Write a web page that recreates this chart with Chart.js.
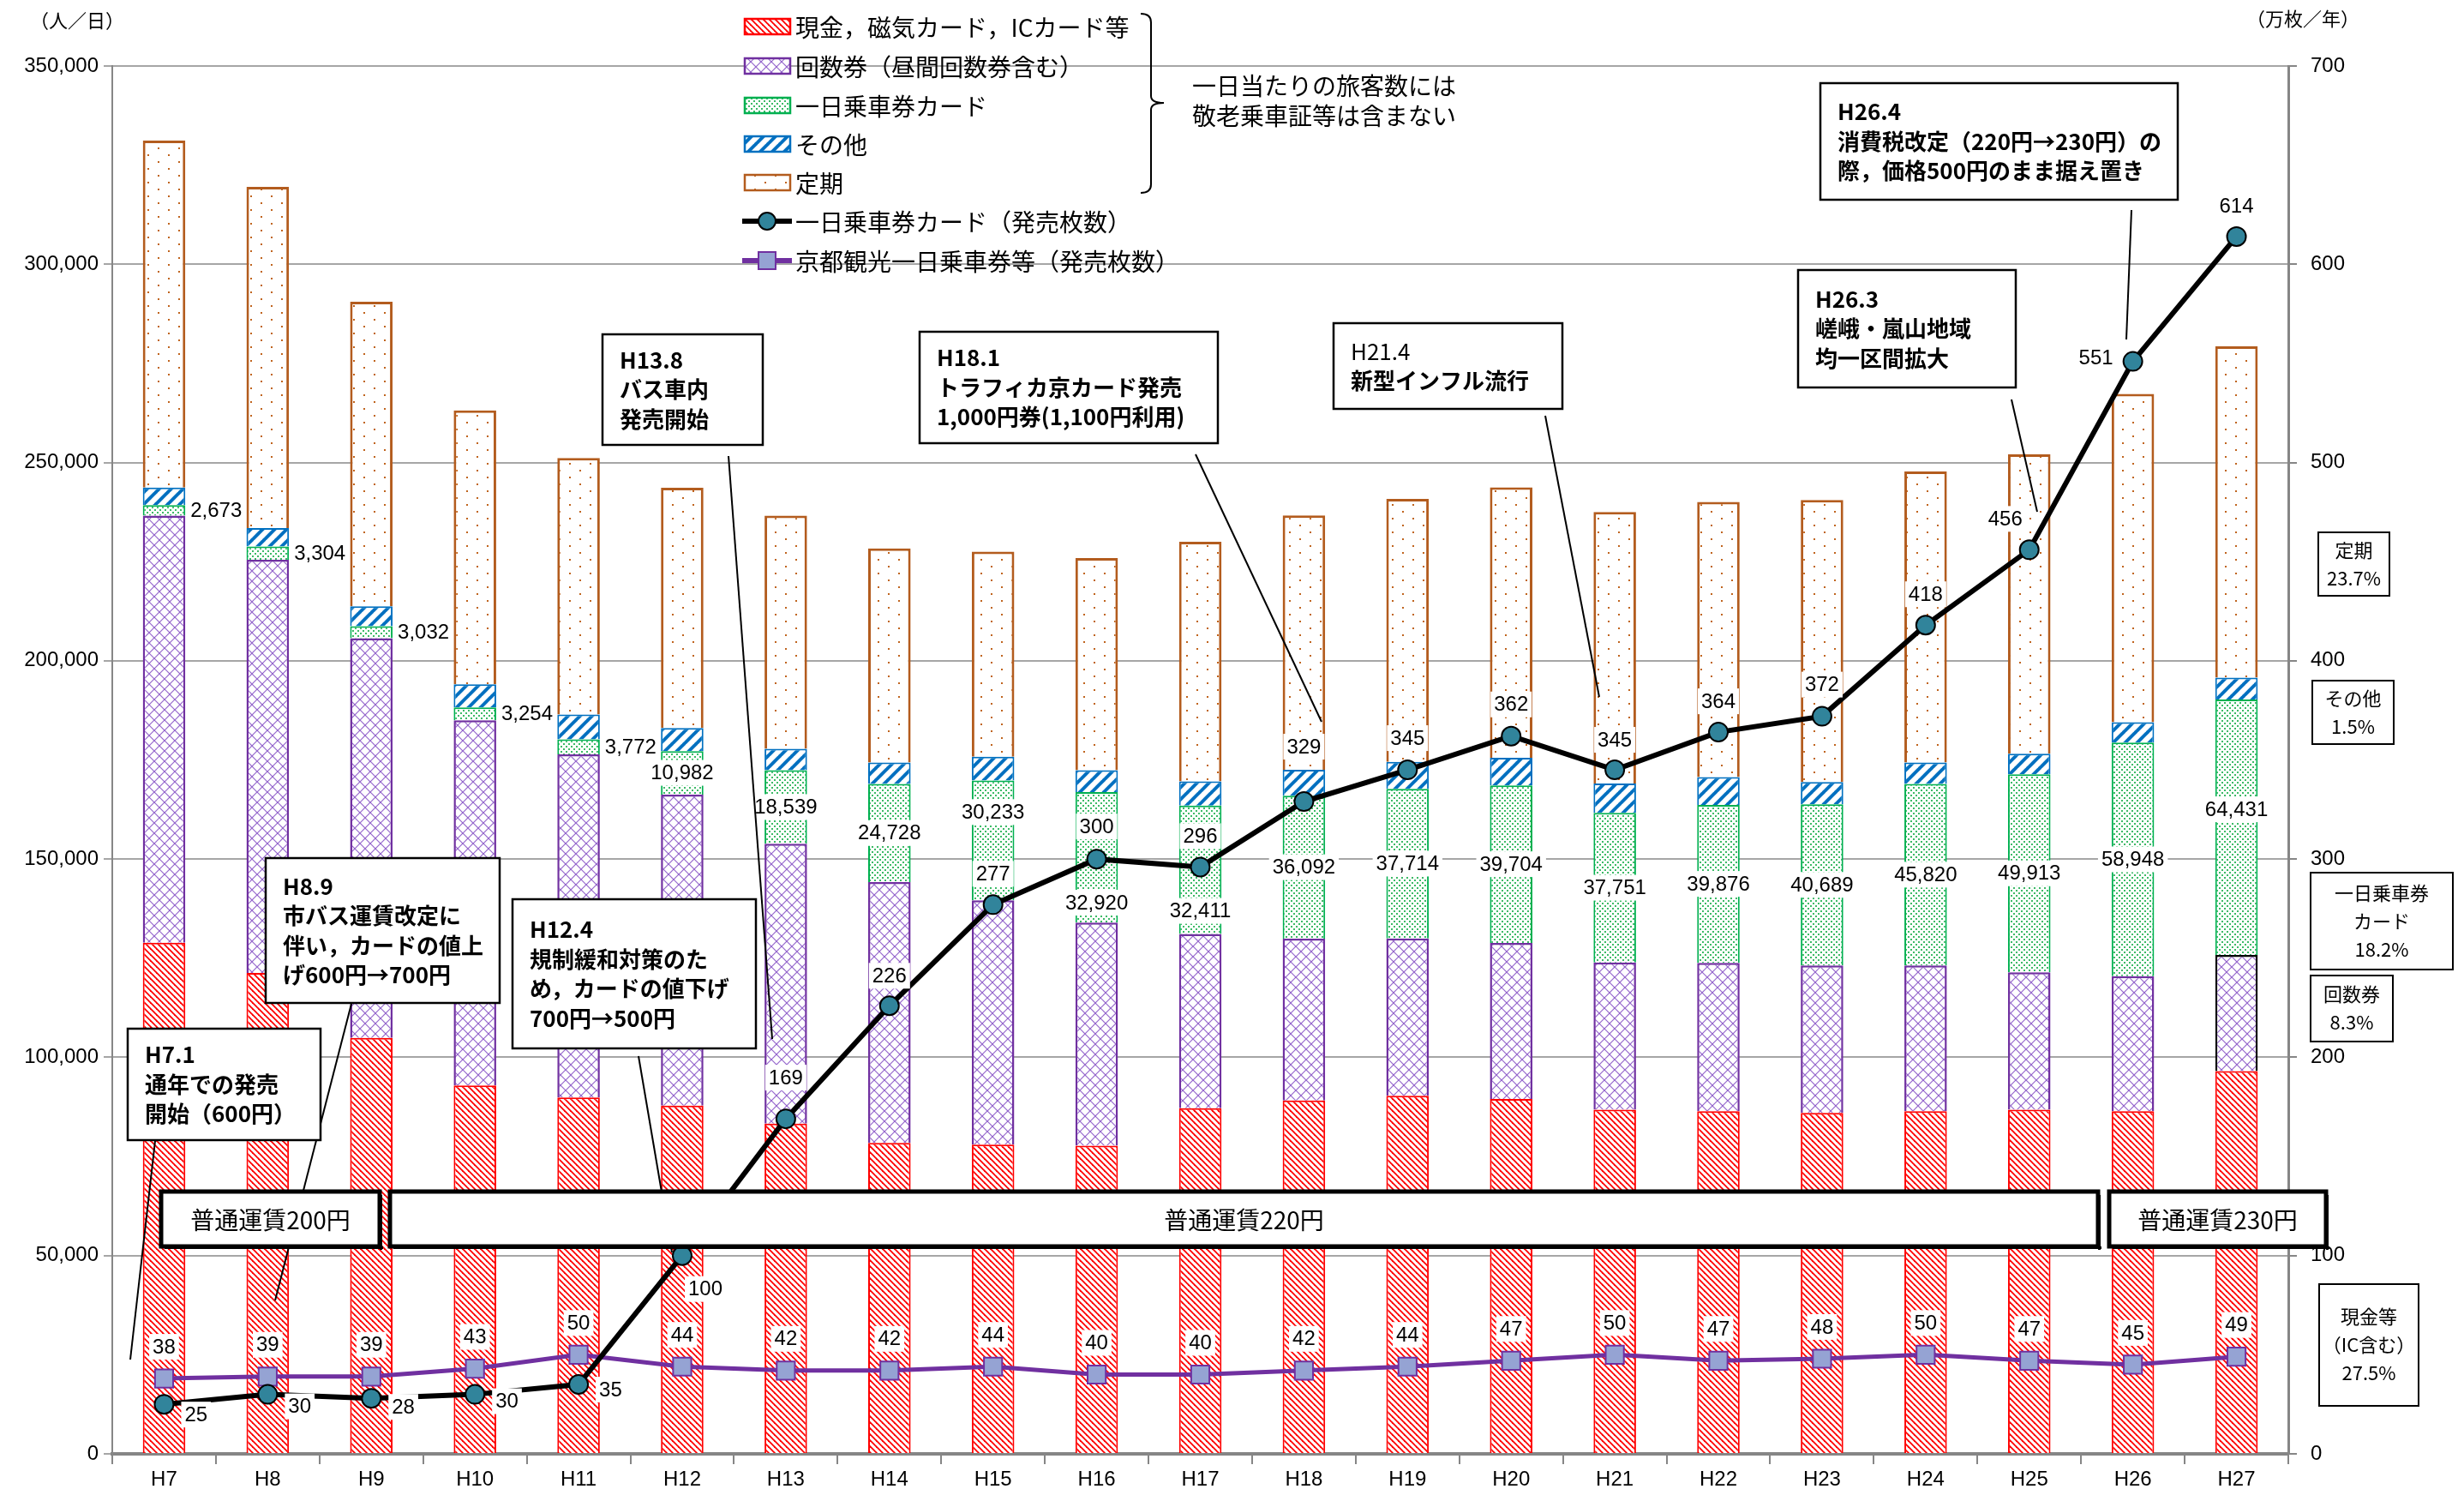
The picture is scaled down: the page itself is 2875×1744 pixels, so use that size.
<!DOCTYPE html>
<html lang="ja">
<head>
<meta charset="utf-8">
<title>一日乗車券カード 発売枚数と旅客数の推移</title>
<script src="https://cdn.jsdelivr.net/npm/chart.js@4.4.1/dist/chart.umd.min.js"></script>
<style>
html, body { margin: 0; padding: 0; background: #fff; }
canvas { display: block; }
</style>
</head>
<body>
<canvas id="chart" width="2875" height="1744"></canvas>
<script>
// 年度
const years = ['H7','H8','H9','H10','H11','H12','H13','H14','H15','H16','H17','H18','H19','H20','H21','H22','H23','H24','H25','H26','H27'];

// 一日当たりの旅客数（人／日）
const cash    = [128900,121300,104900,92900,89900,87800,83300,78400,78000,77700,87200,89100,90300,89500,86800,86400,86000,86400,86800,86400,96500];
const kaisu   = [107700,104200,100800,92100,86500,78450,70550,65800,61600,56300,43900,40800,39700,39350,37100,37400,37150,36750,34650,34050,29300];
const dayCard = [2673,3304,3032,3254,3772,10982,18539,24728,30233,32920,32411,36092,37714,39704,37751,39876,40689,45820,49913,58948,64431];
const other   = [4400,4700,5000,5800,6300,5800,5400,5400,6000,5500,6100,6500,6800,7000,7400,7000,5600,5400,5200,5100,5500];
const teiki   = [87500,86000,76800,69100,64700,60600,58800,54000,51700,53500,60400,64200,66300,68200,68500,69400,71100,73400,75500,82800,83600];

// 発売枚数（万枚／年）
const cardSales  = [25,30,28,30,35,100,169,226,277,300,296,329,345,362,345,364,372,418,456,551,614];
const kyotoSales = [38,39,39,43,50,44,42,42,44,40,40,42,44,47,50,47,48,50,47,45,49];

// 右軸・左軸の目盛
const leftTicks = { min: 0, max: 350000, step: 50000 };
const rightTicks = { min: 0, max: 700, step: 100 };

// ラベル位置の微調整（px）
const cardLabelShift = [[24,12,'l'],[24,14,'l'],[24,10,'l'],[24,8,'l'],[24,6,'l'],[27,39,'c'],[0,-48,'c'],[0,-35,'c'],[0,-36,'c'],[0,-38,'c'],[0,-36,'c'],[0,-64,'c'],[0,-37,'c'],[0,-37,'c'],[0,-35,'c'],[0,-36,'c'],[0,-37,'c'],[0,-36,'c'],[-28,-36,'c'],[-43,-4,'c'],[0,-36,'c']];
const dayCardLabelShift = [0,0,0,0,0,0,0,0,-33,53,48,0,0,0,0,0,0,0,0,0,-21];

const canvas = document.getElementById('chart');
const ctx = canvas.getContext('2d');

const JP = '"Noto Sans CJK JP", "Noto Sans", sans-serif';
const NUM = '"Liberation Sans", Arial, sans-serif';

function makePattern(w, h, draw) {
  const c = document.createElement('canvas');
  c.width = w; c.height = h;
  const g = c.getContext('2d');
  g.fillStyle = '#fff';
  g.fillRect(0, 0, w, h);
  draw(g, w, h);
  return ctx.createPattern(c, 'repeat');
}

// 現金：赤の斜線
const pCash = makePattern(7, 7, (g, s) => {
  g.strokeStyle = '#FF0000'; g.lineWidth = 1.8;
  for (let k = -1; k <= 1; k++) {
    g.beginPath(); g.moveTo(k * s - 1, -1); g.lineTo(k * s + s + 1, s + 1); g.stroke();
  }
});
// 回数券：紫の格子
const pKaisu = makePattern(12, 12, (g, s) => {
  g.strokeStyle = '#9466CC'; g.lineWidth = 1.2;
  for (let k = -1; k <= 1; k++) {
    g.beginPath(); g.moveTo(k * s, 0); g.lineTo(k * s + s, s); g.stroke();
    g.beginPath(); g.moveTo(k * s + s, 0); g.lineTo(k * s, s); g.stroke();
  }
});
// 一日乗車券カード：緑の点
const pCard = makePattern(6, 6, g => {
  g.fillStyle = '#3CBA66';
  g.fillRect(0, 0, 2, 2);
  g.fillRect(3, 3, 2, 2);
});
// その他：青の太い斜線
const pOther = makePattern(14, 14, (g, s) => {
  g.strokeStyle = '#0070C0'; g.lineWidth = 4;
  for (let k = -1; k <= 2; k++) {
    g.beginPath(); g.moveTo(k * s + 1, -1); g.lineTo(k * s - s - 1, s + 1); g.stroke();
  }
});
// 定期：茶色の点
const pTeiki = makePattern(24, 16, g => {
  g.fillStyle = '#C0641E';
  g.fillRect(4, 4, 2, 2);
  g.fillRect(16, 12, 2, 2);
});

function boxText(c, lines, x, y0, lh, fonts) {
  c.textAlign = 'left';
  c.textBaseline = 'middle';
  c.fillStyle = '#000';
  lines.forEach((t, i) => {
    c.font = fonts[i] || fonts[fonts.length - 1];
    c.fillText(t, x, y0 + i * lh);
  });
}

function whiteLabel(c, text, x, y, align) {
  c.font = '24px ' + NUM;
  const w = c.measureText(text).width;
  const left = align === 'l' ? x : x - w / 2;
  c.fillStyle = '#fff';
  c.fillRect(left - 4, y - 15, w + 8, 30);
  c.fillStyle = '#000';
  c.textAlign = 'left';
  c.textBaseline = 'middle';
  c.fillText(text, left, y + 1);
}

// 注記（吹き出し）
const notes = [
  { box: [149, 1200, 225, 130], text: ['H7.1', '通年での発売', '開始（600円）'], line: [181, 1331, 152, 1586] },
  { box: [310, 1001, 273, 169], text: ['H8.9', '市バス運賃改定に', '伴い，カードの値上', 'げ600円→700円'], line: [410, 1171, 321, 1517] },
  { box: [598, 1049, 284, 174], text: ['H12.4', '規制緩和対策のた', 'め，カードの値下げ', '700円→500円'], line: [745, 1232, 784, 1461] },
  { box: [703, 390, 187, 129], text: ['H13.8', 'バス車内', '発売開始'], line: [850, 532, 901, 1212] },
  { box: [1073, 387, 348, 130], text: ['H18.1', 'トラフィカ京カード発売', '1,000円券(1,100円利用)'], line: [1395, 530, 1542, 842] },
  { box: [1556, 377, 267, 100], text: ['H21.4', '新型インフル流行'], line: [1803, 485, 1866, 813], plainFirst: true },
  { box: [2098, 315, 254, 137], text: ['H26.3', '嵯峨・嵐山地域', '均一区間拡大'], line: [2347, 466, 2377, 597] },
  { box: [2124, 97, 417, 136], text: ['H26.4', '消費税改定（220円→230円）の', '際，価格500円のまま据え置き'], line: [2487, 245, 2481, 396] }
];

const fareBoxes = [
  { box: [188, 1390, 255, 64], text: '普通運賃200円' },
  { box: [455, 1390, 1993, 64], text: '普通運賃220円' },
  { box: [2461, 1390, 253, 64], text: '普通運賃230円' }
];

const shareBoxes = [
  { box: [2705, 621, 83, 74], text: ['定期', '23.7%'] },
  { box: [2698, 794, 95, 74], text: ['その他', '1.5%'] },
  { box: [2696, 1018, 166, 113], text: ['一日乗車券', 'カード', '18.2%'] },
  { box: [2696, 1138, 96, 77], text: ['回数券', '8.3%'] },
  { box: [2706, 1498, 116, 142], text: ['現金等', '（IC含む）', '27.5%'] }
];

const overlay = {
  id: 'overlay',
  afterDatasetsDraw(chart) {
    const c = chart.ctx;
    c.save();

    // 一日乗車券カード旅客数のラベル
    const mCard = chart.getDatasetMeta(2);
    mCard.data.forEach((el, i) => {
      const p = el.getProps(['x', 'y', 'base', 'width'], true);
      const mid = (p.y + p.base) / 2;
      const txt = dayCard[i].toLocaleString('en-US');
      if (i < 5) whiteLabel(c, txt, p.x + p.width / 2 + 6, mid, 'l');
      else whiteLabel(c, txt, p.x, mid + dayCardLabelShift[i], 'c');
    });

    // 京都観光一日乗車券等のラベル
    chart.getDatasetMeta(6).data.forEach((el, i) => {
      whiteLabel(c, String(kyotoSales[i]), el.x, el.y - 37, 'c');
    });
    // 一日乗車券カード発売枚数のラベル
    chart.getDatasetMeta(5).data.forEach((el, i) => {
      const s = cardLabelShift[i];
      whiteLabel(c, String(cardSales[i]), el.x + s[0], el.y + s[1], s[2]);
    });

    // 吹き出し
    notes.forEach(n => {
      c.strokeStyle = '#000'; c.lineWidth = 2;
      c.beginPath(); c.moveTo(n.line[0], n.line[1]); c.lineTo(n.line[2], n.line[3]); c.stroke();
    });
    notes.forEach(n => {
      const [x, y, w, h] = n.box;
      c.fillStyle = '#fff'; c.fillRect(x, y, w, h);
      c.strokeStyle = '#000'; c.lineWidth = 2.5; c.strokeRect(x, y, w, h);
      const fb = 'bold 26px ' + JP;
      const fonts = n.plainFirst ? ['26px ' + JP, fb] : [fb];
      const lh = 34.5;
      const y0 = y + h / 2 - (n.text.length - 1) * lh / 2;
      boxText(c, n.text, x + 20, y0, lh, fonts);
    });

    // 普通運賃
    fareBoxes.forEach(f => {
      const [x, y, w, h] = f.box;
      c.fillStyle = '#fff'; c.fillRect(x, y, w, h);
      c.fillStyle = '#000'; c.fillRect(x + 4, y + h, w, 3); c.fillRect(x + w, y + 4, 3, h);
      c.strokeStyle = '#000'; c.lineWidth = 5; c.strokeRect(x, y, w, h);
      c.font = '28px ' + JP; c.textAlign = 'center'; c.textBaseline = 'middle';
      c.fillText(f.text, x + w / 2, y + h / 2 + 1);
    });

    // 構成比
    shareBoxes.forEach(b => {
      const [x, y, w, h] = b.box;
      c.fillStyle = '#fff'; c.fillRect(x, y, w, h);
      c.strokeStyle = '#000'; c.lineWidth = 2; c.strokeRect(x, y, w, h);
      c.fillStyle = '#000'; c.font = '22px ' + JP; c.textAlign = 'center'; c.textBaseline = 'middle';
      const lh = 33;
      const y0 = y + h / 2 - (b.text.length - 1) * lh / 2;
      b.text.forEach((t, i) => c.fillText(t, x + w / 2, y0 + i * lh));
    });

    // 凡例
    const rows = [31, 77, 123, 168, 213, 258, 304];
    const swatches = [[pCash, '#FF0000'], [pKaisu, '#7030A0'], [pCard, '#00B050'], [pOther, '#0070C0'], [pTeiki, '#B35C1E']];
    chart.data.datasets.slice(0, 5).forEach((ds, i) => {
      const y = rows[i];
      c.fillStyle = swatches[i][0]; c.fillRect(869, y - 9, 53, 18);
      c.strokeStyle = swatches[i][1]; c.lineWidth = 2.5; c.strokeRect(869, y - 9, 53, 18);
    });
    // 折れ線の凡例
    c.strokeStyle = '#000'; c.lineWidth = 6;
    c.beginPath(); c.moveTo(866, rows[5]); c.lineTo(924, rows[5]); c.stroke();
    c.fillStyle = '#31849B'; c.lineWidth = 2;
    c.beginPath(); c.arc(895, rows[5], 10, 0, Math.PI * 2); c.fill(); c.stroke();
    c.strokeStyle = '#7030A0'; c.lineWidth = 6;
    c.beginPath(); c.moveTo(866, rows[6]); c.lineTo(924, rows[6]); c.stroke();
    c.fillStyle = '#95A3D3'; c.lineWidth = 2;
    c.fillRect(885, rows[6] - 10, 20, 20); c.strokeRect(885, rows[6] - 10, 20, 20);

    c.fillStyle = '#000'; c.font = '28px ' + JP; c.textAlign = 'left'; c.textBaseline = 'middle';
    chart.data.datasets.forEach((ds, i) => c.fillText(ds.label, 928, rows[i] + 1));

    // 括弧と注
    c.strokeStyle = '#000'; c.lineWidth = 2;
    c.beginPath();
    c.moveTo(1331, 16); c.quadraticCurveTo(1343, 16, 1343, 26);
    c.lineTo(1343, 112); c.quadraticCurveTo(1343, 120, 1358, 120);
    c.quadraticCurveTo(1343, 120, 1343, 128);
    c.lineTo(1343, 215); c.quadraticCurveTo(1343, 225, 1331, 225);
    c.stroke();
    c.font = '28px ' + JP;
    c.fillText('一日当たりの旅客数には', 1391, 100);
    c.fillText('敬老乗車証等は含まない', 1391, 135);

    // 軸の単位
    c.font = '22px ' + JP; c.textAlign = 'center';
    c.fillText('（人／日）', 90, 24);
    c.fillText('（万枚／年）', 2687, 22);

    c.restore();
  }
};

const tickFont = { family: NUM, size: 24 };

new Chart(ctx, {
  type: 'bar',
  data: {
    labels: years,
    datasets: [
      { label: '現金，磁気カード，ICカード等', data: cash, backgroundColor: pCash, borderColor: '#FF0000', borderWidth: 2, order: 5 },
      { label: '回数券（昼間回数券含む）', data: kaisu, backgroundColor: pKaisu,
        borderColor: c => c.dataIndex === years.length - 1 ? '#000' : '#7030A0', borderWidth: 2.5, order: 5 },
      { label: '一日乗車券カード', data: dayCard, backgroundColor: pCard, borderColor: '#00B050', borderWidth: 2, order: 5 },
      { label: 'その他', data: other, backgroundColor: pOther, borderColor: '#0070C0', borderWidth: 2, order: 5 },
      { label: '定期', data: teiki, backgroundColor: pTeiki, borderColor: '#B35C1E', borderWidth: 3, order: 5 },
      { type: 'line', label: '一日乗車券カード（発売枚数）', data: cardSales, yAxisID: 'y2', order: 0,
        borderColor: '#000', borderWidth: 6, tension: 0,
        pointRadius: 11, pointBackgroundColor: '#31849B', pointBorderColor: '#000', pointBorderWidth: 2 },
      { type: 'line', label: '京都観光一日乗車券等（発売枚数）', data: kyotoSales, yAxisID: 'y2', order: 1,
        borderColor: '#7030A0', borderWidth: 5, tension: 0,
        pointStyle: 'rect', pointRadius: 15, pointBackgroundColor: '#95A3D3', pointBorderColor: '#7030A0', pointBorderWidth: 2 }
    ]
  },
  options: {
    responsive: false,
    animation: false,
    devicePixelRatio: 1,
    layout: { padding: { top: 77, left: 0, right: 0, bottom: 0 } },
    plugins: { legend: { display: false }, tooltip: { enabled: false } },
    datasets: { bar: { categoryPercentage: 0.41, barPercentage: 1 } },
    scales: {
      x: {
        stacked: true,
        grid: { drawOnChartArea: false, drawTicks: true, tickLength: 12, color: '#868686', lineWidth: 2, offset: true },
        border: { color: '#868686', width: 4 },
        ticks: { font: tickFont, color: '#000', padding: 4, maxRotation: 0 },
        afterFit: s => { s.height = 48; }
      },
      y: {
        stacked: true,
        position: 'left',
        min: leftTicks.min, max: leftTicks.max,
        ticks: { stepSize: leftTicks.step, font: tickFont, color: '#000', padding: 6,
          callback: v => v.toLocaleString('en-US') },
        grid: { color: '#A6A6A6', lineWidth: 2, tickLength: 10 },
        border: { color: '#868686', width: 2 },
        afterFit: s => { s.width = 131; }
      },
      y2: {
        position: 'right',
        min: rightTicks.min, max: rightTicks.max,
        ticks: { stepSize: rightTicks.step, font: tickFont, color: '#000', padding: 16 },
        grid: { drawOnChartArea: false, color: '#868686', lineWidth: 2, tickLength: 10 },
        border: { color: '#868686', width: 3 },
        afterFit: s => { s.width = 205; }
      }
    }
  },
  plugins: [overlay]
});
</script>
</body>
</html>
